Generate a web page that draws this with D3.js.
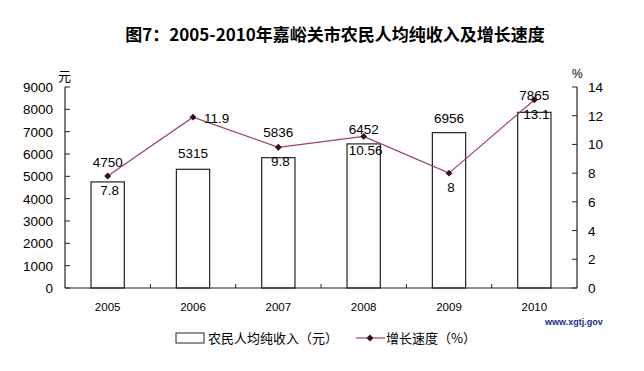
<!DOCTYPE html>
<html>
<head>
<meta charset="utf-8">
<script src="https://cdn.jsdelivr.net/npm/d3@7"></script>
<style>
  body { margin: 0; background: #fff; }
  text { font-family: "Liberation Sans", Arial, sans-serif; fill: #000; }
</style>
</head>
<body>
<div id="chart"></div>
<script>
var years = ['2005', '2006', '2007', '2008', '2009', '2010'];
var income = [4750, 5315, 5836, 6452, 6956, 7865];
var growth = [7.8, 11.9, 9.8, 10.56, 8, 13.1];
var growthLabels = ['7.8', '11.9', '9.8', '10.56', '8', '13.1'];
var leftTicks = [0, 1000, 2000, 3000, 4000, 5000, 6000, 7000, 8000, 9000];
var rightTicks = [0, 2, 4, 6, 8, 10, 12, 14];

// label placement tweaks (pixels)
var barLabelLift = [15, 11, 21, 10, 10, 12];
var lineLabelPos = ['below', 'right', 'below', 'below', 'below', 'below'];

var W = 644, H = 371;
var m = { left: 65, right: 67, top: 87, bottom: 83 };

var svg = d3.select('#chart')
    .append('svg')
    .attr('width', W)
    .attr('height', H)
    .attr('xmlns', 'http://www.w3.org/2000/svg');

var x = d3.scaleBand()
    .domain(years)
    .range([m.left, W - m.right])
    .paddingInner(0.61)
    .paddingOuter(0.305);
var band = (W - m.right - m.left) / years.length;
var y = d3.scaleLinear().domain([0, 9000]).range([H - m.bottom, m.top]);
var y2 = d3.scaleLinear().domain([0, 14]).range([H - m.bottom, m.top]);
var cx = (d, i) => x(years[i]) + x.bandwidth() / 2;

// title
svg.append('text')
    .attr('x', 335)
    .attr('y', 41)
    .attr('text-anchor', 'middle')
    .style('font-family', '"Noto Sans CJK SC", sans-serif')
    .style('font-weight', 'bold')
    .style('font-size', '17px')
    .text('图7：2005-2010年嘉峪关市农民人均纯收入及增长速度');

// bars
svg.selectAll('rect.bar')
    .data(income)
    .enter()
    .append('rect')
    .attr('class', 'bar')
    .attr('x', (d, i) => x(years[i]))
    .attr('y', (d) => y(d))
    .attr('width', x.bandwidth())
    .attr('height', (d) => y(0) - y(d))
    .attr('fill', '#fff')
    .attr('stroke', '#222')
    .attr('stroke-width', 1.2);

// left axis
var gl = svg.append('g').attr('transform', `translate(${m.left},0)`);
gl.append('line')
    .attr('y1', y(9000)).attr('y2', y(0))
    .attr('stroke', '#222').attr('stroke-width', 1.2);
gl.selectAll('line.tk')
    .data(leftTicks)
    .enter()
    .append('line')
    .attr('class', 'tk')
    .attr('x1', 0).attr('x2', 5)
    .attr('y1', (d) => y(d)).attr('y2', (d) => y(d))
    .attr('stroke', '#222');
gl.selectAll('text.tl')
    .data(leftTicks)
    .enter()
    .append('text')
    .attr('class', 'tl')
    .attr('x', -12)
    .attr('y', (d) => y(d) + 5)
    .attr('text-anchor', 'end')
    .style('font-size', '13.5px')
    .text((d) => d);
gl.append('text')
    .attr('x', -7).attr('y', 81)
    .style('font-family', '"Noto Sans CJK SC", sans-serif')
    .style('font-size', '13px')
    .text('元');

// right axis
var xr = W - m.right;
var gr = svg.append('g').attr('transform', `translate(${xr},0)`);
gr.append('line')
    .attr('y1', y2(14)).attr('y2', y2(0))
    .attr('stroke', '#222').attr('stroke-width', 1.2);
gr.selectAll('line.tk')
    .data(rightTicks)
    .enter()
    .append('line')
    .attr('class', 'tk')
    .attr('x1', 0).attr('x2', -5)
    .attr('y1', (d) => y2(d)).attr('y2', (d) => y2(d))
    .attr('stroke', '#222');
gr.selectAll('text.tl')
    .data(rightTicks)
    .enter()
    .append('text')
    .attr('class', 'tl')
    .attr('x', 11)
    .attr('y', (d) => y2(d) + 5)
    .style('font-size', '13.5px')
    .text((d) => d);
gr.append('text')
    .attr('x', -5).attr('y', 78)
    .style('font-size', '12px')
    .text('%');

// bottom axis
svg.append('line')
    .attr('x1', m.left).attr('x2', xr)
    .attr('y1', y(0)).attr('y2', y(0))
    .attr('stroke', '#222').attr('stroke-width', 1.2);
svg.selectAll('line.xt')
    .data(years.slice(1))
    .enter()
    .append('line')
    .attr('class', 'xt')
    .attr('x1', (d) => x(d) - x.bandwidth() * 0.78)
    .attr('x2', (d) => x(d) - x.bandwidth() * 0.78)
    .attr('y1', y(0)).attr('y2', y(0) - 4)
    .attr('stroke', '#222');
svg.selectAll('text.xl')
    .data(years)
    .enter()
    .append('text')
    .attr('class', 'xl')
    .attr('x', (d) => x(d) + x.bandwidth() / 2)
    .attr('y', 311)
    .attr('text-anchor', 'middle')
    .style('font-size', '11.5px')
    .text((d) => d);

// line
var line = d3.line()
    .x(cx)
    .y((d) => y2(d));
svg.append('path')
    .datum(growth)
    .attr('d', line)
    .attr('fill', 'none')
    .attr('stroke', '#a0405a')
    .attr('stroke-width', 1.2);
svg.selectAll('path.mk')
    .data(growth)
    .enter()
    .append('path')
    .attr('class', 'mk')
    .attr('d', d3.symbol(d3.symbolDiamond2, 30))
    .attr('transform', (d, i) => `translate(${cx(d, i)},${y2(d)})`)
    .attr('fill', '#3a0a2a');

// bar value labels
svg.selectAll('text.bv')
    .data(income)
    .enter()
    .append('text')
    .attr('class', 'bv')
    .attr('x', cx)
    .attr('y', (d, i) => y(d) - barLabelLift[i])
    .attr('text-anchor', 'middle')
    .style('font-size', '13.5px')
    .text((d) => d);

// line value labels
svg.selectAll('text.lv')
    .data(growth)
    .enter()
    .append('text')
    .attr('class', 'lv')
    .attr('x', (d, i) => lineLabelPos[i] === 'right' ? cx(d, i) + 11 : cx(d, i) + 2)
    .attr('y', (d, i) => lineLabelPos[i] === 'right' ? y2(d) + 6 : y2(d) + 19)
    .attr('text-anchor', (d, i) => lineLabelPos[i] === 'right' ? 'start' : 'middle')
    .style('font-size', '13.5px')
    .text((d, i) => growthLabels[i]);

// watermark
svg.append('text')
    .attr('x', 545).attr('y', 325)
    .style('font-size', '9px')
    .style('font-weight', 'bold')
    .style('fill', '#1c2a8c')
    .text('www.xgtj.gov');

// legend
var lg = svg.append('g');
lg.append('rect')
    .attr('x', 176).attr('y', 333)
    .attr('width', 28).attr('height', 10)
    .attr('fill', '#fff').attr('stroke', '#222');
lg.append('text')
    .attr('x', 208).attr('y', 343)
    .style('font-family', '"Noto Sans CJK SC", sans-serif')
    .style('font-size', '13px')
    .text('农民人均纯收入（元）');
lg.append('line')
    .attr('x1', 356).attr('x2', 385)
    .attr('y1', 338).attr('y2', 338)
    .attr('stroke', '#a0405a').attr('stroke-width', 1.2);
lg.append('path')
    .attr('d', d3.symbol(d3.symbolDiamond2, 30))
    .attr('transform', 'translate(370,338)')
    .attr('fill', '#3a0a2a');
lg.append('text')
    .attr('x', 386).attr('y', 343)
    .style('font-family', '"Noto Sans CJK SC", sans-serif')
    .style('font-size', '13px')
    .text('增长速度（%）');
</script>
</body>
</html>
